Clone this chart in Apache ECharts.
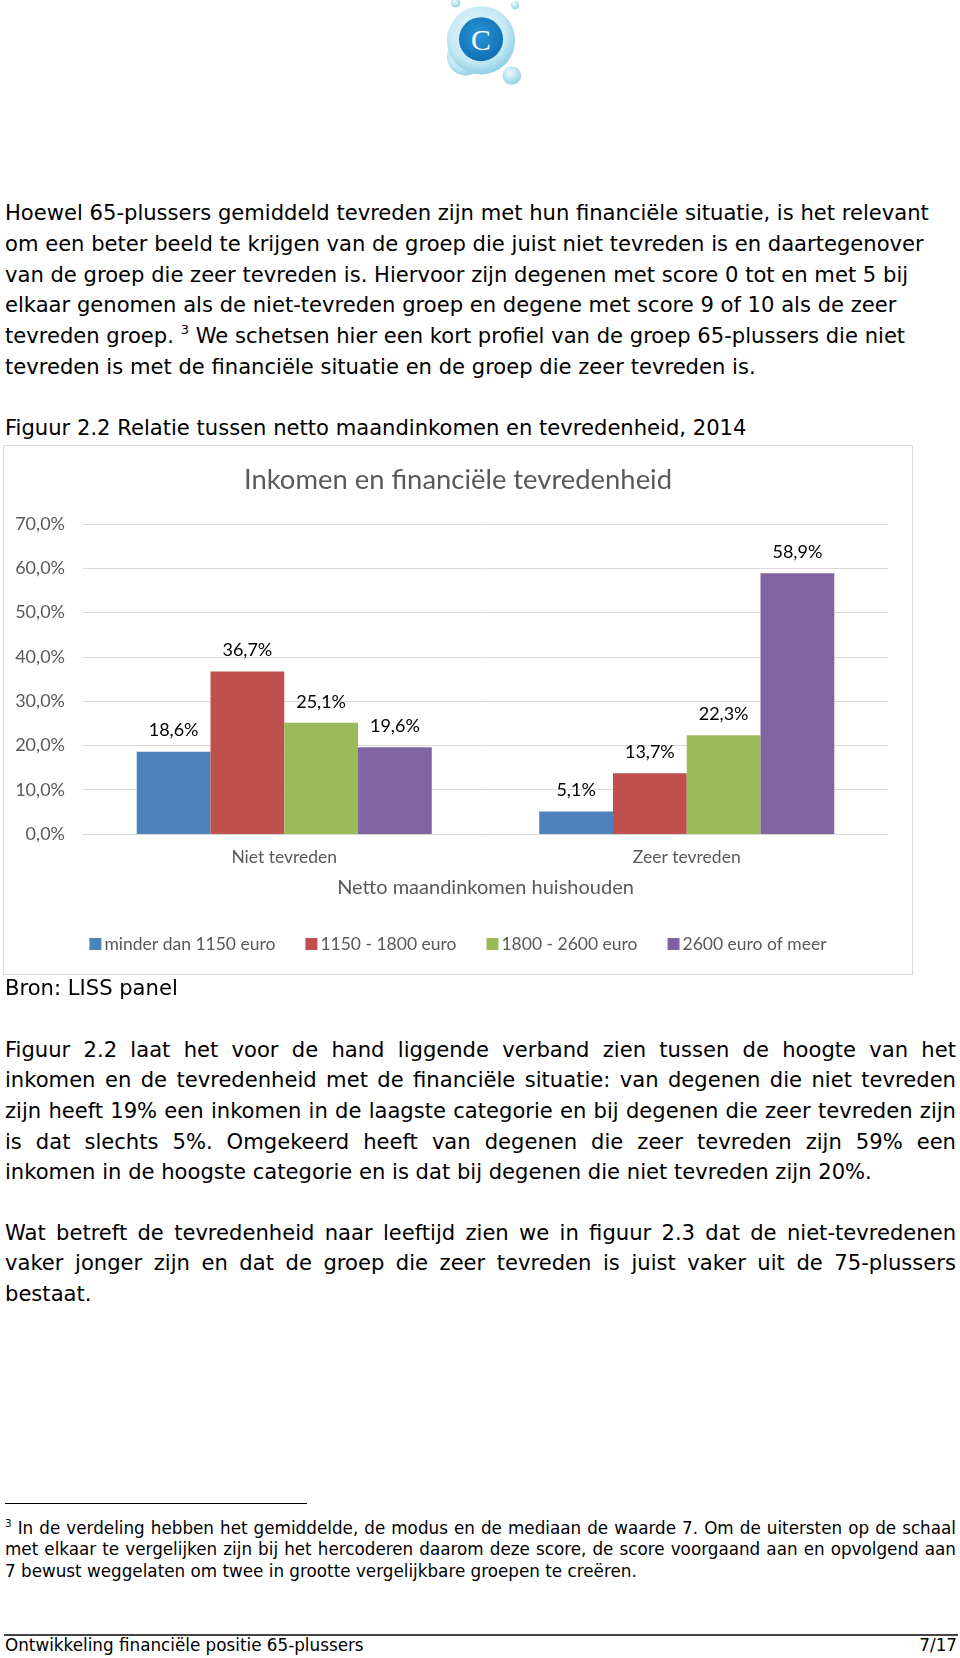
<!DOCTYPE html>
<html>
<head>
<meta charset="utf-8">
<script src="https://cdn.jsdelivr.net/npm/echarts@6/dist/echarts.min.js"></script>
<style>
  html, body { margin: 0; padding: 0; background: #fff; }
  body { width: 960px; height: 1658px; position: relative; overflow: hidden; font-family: "DejaVu Sans", Verdana, sans-serif; color: #000; }
  .abs { position: absolute; }
  .p21 { font-size: 21.1px; line-height: 30.65px; left: 5px; width: 951px; white-space: nowrap; }
  .just { white-space: normal; }
  .just .ln { display: block; text-align: justify; text-align-last: justify; white-space: nowrap; }
  .just .ln.last { text-align-last: left; }
  .fn { font-size: 16.8px; line-height: 21.15px; left: 5px; width: 951px; }
  sup { font-size: 62%; vertical-align: baseline; position: relative; top: -0.65em; line-height: 0; }
  #chart { position: absolute; left: 3px; top: 445px; width: 908px; height: 528px; border: 1px solid #d9d9d9; }
</style>
</head>
<body>
<svg class="abs" style="left:415px;top:-4px" width="132" height="99" viewBox="-6 -4.5 132 99">
  <defs>
    <radialGradient id="bub" cx="45%" cy="40%" r="60%">
      <stop offset="0%" stop-color="#f2fbfe"/>
      <stop offset="70%" stop-color="#c4e8f4"/>
      <stop offset="100%" stop-color="#8fd0e6"/>
    </radialGradient>
    <radialGradient id="core" cx="45%" cy="40%" r="65%">
      <stop offset="0%" stop-color="#2a96d6"/>
      <stop offset="100%" stop-color="#0d6db0"/>
    </radialGradient>
    <radialGradient id="sm" cx="40%" cy="35%" r="65%">
      <stop offset="0%" stop-color="#eefafd"/>
      <stop offset="100%" stop-color="#92d2e8"/>
    </radialGradient>
  </defs>
  <g transform="translate(60 42) scale(1.1) translate(-60 -42)">
    <circle cx="46" cy="55" r="17" fill="url(#bub)"/>
    <circle cx="60" cy="40" r="31" fill="url(#bub)"/>
    <circle cx="60" cy="39" r="20" fill="url(#core)"/>
    <text x="60" y="48.5" text-anchor="middle" font-family="Liberation Serif, serif" font-size="27" fill="#fff">C</text>
    <circle cx="88" cy="72" r="8.5" fill="url(#sm)"/>
    <circle cx="37" cy="6" r="4.2" fill="url(#sm)"/>
    <circle cx="91" cy="8" r="3.8" fill="url(#sm)"/>
  </g>
</svg>

<div class="abs p21" style="top:198.3px">Hoewel 65-plussers gemiddeld tevreden zijn met hun financiële situatie, is het relevant<br>om een beter beeld te krijgen van de groep die juist niet tevreden is en daartegenover<br>van de groep die zeer tevreden is. Hiervoor zijn degenen met score 0 tot en met 5 bij<br>elkaar genomen als de niet-tevreden groep en degene met score 9 of 10 als de zeer<br>tevreden groep. <sup>3</sup> We schetsen hier een kort profiel van de groep 65-plussers die niet<br>tevreden is met de financiële situatie en de groep die zeer tevreden is.</div>

<div class="abs p21" style="top:412.9px">Figuur 2.2 Relatie tussen netto maandinkomen en tevredenheid, 2014</div>

<div id="chart"></div>

<div class="abs p21" style="top:973px">Bron: LISS panel</div>

<div class="abs p21 just" style="top:1034.6px">
  <span class="ln">Figuur 2.2 laat het voor de hand liggende verband zien tussen de hoogte van het</span>
  <span class="ln">inkomen en de tevredenheid met de financiële situatie: van degenen die niet tevreden</span>
  <span class="ln">zijn heeft 19% een inkomen in de laagste categorie en bij degenen die zeer tevreden zijn</span>
  <span class="ln">is dat slechts 5%. Omgekeerd heeft van degenen die zeer tevreden zijn 59% een</span>
  <span class="ln last">inkomen in de hoogste categorie en is dat bij degenen die niet tevreden zijn 20%.</span>
</div>

<div class="abs p21 just" style="top:1217.5px">
  <span class="ln">Wat betreft de tevredenheid naar leeftijd zien we in figuur 2.3 dat de niet-tevredenen</span>
  <span class="ln">vaker jonger zijn en dat de groep die zeer tevreden is juist vaker uit de 75-plussers</span>
  <span class="ln last">bestaat.</span>
</div>

<div class="abs" style="left:5px;top:1503px;width:302px;height:0;border-top:1.5px solid #000"></div>

<div class="abs fn just" style="top:1518.2px">
  <span class="ln"><sup>3</sup> In de verdeling hebben het gemiddelde, de modus en de mediaan de waarde 7. Om de uitersten op de schaal</span>
  <span class="ln">met elkaar te vergelijken zijn bij het hercoderen daarom deze score, de score voorgaand aan en opvolgend aan</span>
  <span class="ln last">7 bewust weggelaten om twee in grootte vergelijkbare groepen te creëren.</span>
</div>

<div class="abs" style="left:4px;top:1634px;width:954px;height:0;border-top:2px solid #444"></div>
<div class="abs" style="left:5px;top:1635px;font-size:16.8px;line-height:20px;">Ontwikkeling financiële positie 65-plussers</div>
<div class="abs" style="right:3px;top:1635px;font-size:16.8px;line-height:20px;">7/17</div>

<script>
// ---- data ----
const categories = ['Niet tevreden', 'Zeer tevreden'];
const seriesNames = ['minder dan 1150 euro', '1150 - 1800 euro', '1800 - 2600 euro', '2600 euro of meer'];
const incomeLow = [18.6, 5.1];
const incomeMidLow = [36.7, 13.7];
const incomeMidHigh = [25.1, 22.3];
const incomeHigh = [19.6, 58.9];
const yMin = 0, yMax = 70, yInterval = 10;
const chartTitle = 'Inkomen en financiële tevredenheid';
const xAxisName = 'Netto maandinkomen huishouden';

const colors = ['#4f81bd', '#c0504d', '#9bbb59', '#8064a2'];
const seriesData = [incomeLow, incomeMidLow, incomeMidHigh, incomeHigh];
const pct = v => Number(v).toFixed(1).replace('.', ',') + '%';
const FONT = 'Lato';
const GRAY = '#595959';

const chart = echarts.init(document.getElementById('chart'), null, { renderer: 'canvas' });
chart.setOption({
  animation: false,
  color: colors,
  title: {
    text: chartTitle, left: 'center', top: 21, padding: 0,
    textStyle: { fontFamily: FONT, fontSize: 27.4, fontWeight: 'normal', color: GRAY }
  },
  legend: {
    data: seriesNames, left: 'center', top: 489, padding: 0,
    icon: 'rect', itemWidth: 12, itemHeight: 12, itemGap: 30,
    textStyle: { fontFamily: FONT, fontSize: 17.5, color: GRAY, padding: [0, 0, 0, -2] }
  },
  grid: { left: 79, right: 24, top: 78, bottom: 140, containLabel: false },
  xAxis: {
    type: 'category', data: categories,
    name: xAxisName, nameLocation: 'middle', nameGap: 44,
    nameTextStyle: { fontFamily: FONT, fontSize: 20, color: GRAY },
    axisLine: { show: true, lineStyle: { color: '#d9d9d9' } },
    axisTick: { show: false },
    axisLabel: { margin: 14, fontFamily: FONT, fontSize: 17.5, color: GRAY }
  },
  yAxis: {
    type: 'value', min: yMin, max: yMax, interval: yInterval,
    axisLine: { show: false }, axisTick: { show: false },
    splitLine: { lineStyle: { color: '#d9d9d9', width: 1 } },
    axisLabel: { margin: 18, fontFamily: FONT, fontSize: 18, color: GRAY, formatter: v => pct(v) }
  },
  series: seriesNames.map((n, i) => ({
    name: n, type: 'bar', data: seriesData[i],
    barGap: '0%', barCategoryGap: '26.7%',
    label: { show: true, position: 'top', distance: 12, fontFamily: FONT, fontSize: 18, color: '#000', formatter: p => pct(p.value) }
  }))
});
</script>
</body>
</html>
